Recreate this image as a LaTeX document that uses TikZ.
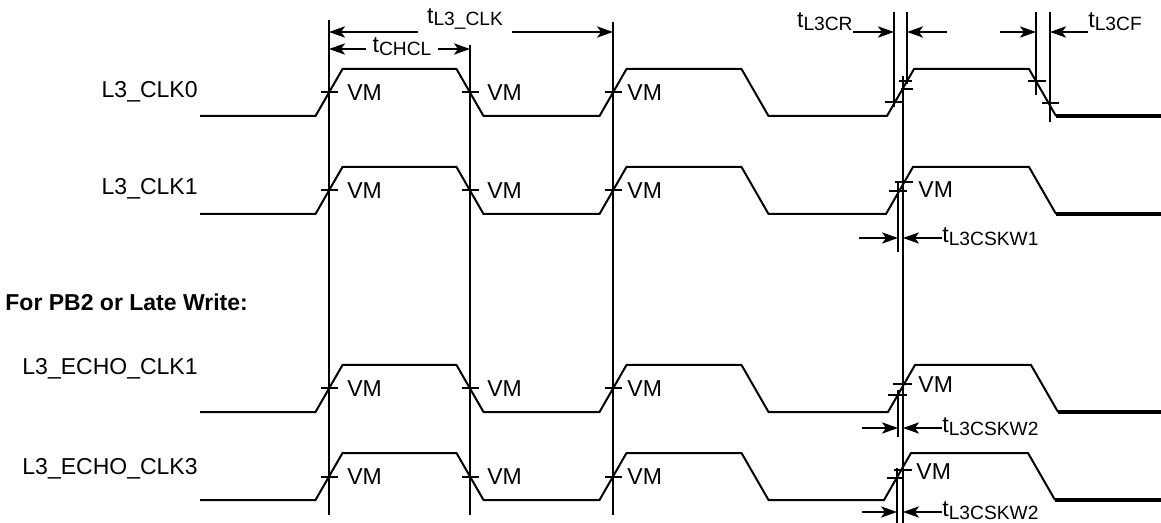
\documentclass[tikz,border=0pt]{standalone}
\usepackage{fontspec}
\setmainfont{Liberation Sans}
\usetikzlibrary{arrows.meta,positioning,calc}

\newcommand{\tsub}[1]{t\raisebox{-1.4pt}{\fontsize{9.6}{10}\selectfont #1}}

\begin{document}
\begin{tikzpicture}[x=0.5pt,y=-0.5pt,
    sig/.style={line width=1pt},
    guide/.style={line width=1pt},
    dimarrow/.style={line width=1pt,-{Stealth[length=8pt,width=5.6pt,inset=2pt]}},
    txt/.style={font=\fontsize{11.5}{13}\selectfont, inner sep=0pt}]
    \useasboundingbox (0,0) rectangle (1161,523);

    % signal names
    \node[txt, anchor=east] (nclk0) at (198,92) {L3\_CLK0};
    \node[txt, anchor=east] (nclk1) at (198,189) {L3\_CLK1};
    \node[txt, anchor=west, font=\bfseries\fontsize{11.5}{13}\selectfont] (npb2) at (5,302) {For PB2 or Late Write:};
    \node[txt, anchor=east] (necho1) at (198,369) {L3\_ECHO\_CLK1};
    \node[txt, anchor=east] (necho3) at (198,469) {L3\_ECHO\_CLK3};

    % waveforms
    \foreach \hi/\lo/\r/\f/\n in {69/116/887/1029/a, 167/214/886/1029/b, 365/412/888/1031/c, 453/500/884/1028/d}{
        \pgfmathsetmacro\mid{(\hi+\lo)/2}
        \draw[sig] (200,\lo) -- (315.5,\lo) -- (342.5,\hi) -- (456.5,\hi) -- (483.5,\lo) -- (599.5,\lo)
            -- (626.5,\hi) -- (741.5,\hi) -- (768.5,\lo) -- (\r,\lo) -- (\r+27,\hi) -- (\f,\hi) -- (\f+27,\lo);
        \draw[line width=1.6pt] (\f+27,\lo) -- (1161,\lo);
        \foreach \c in {329,470,613}
            \draw[sig] (\c-8.5,\mid) -- (\c+8.5,\mid);
        \node[txt, anchor=west] (vm\n1) at (347,\mid) {VM};
        \node[txt, anchor=west] (vm\n2) at (487,\mid) {VM};
        \node[txt, anchor=west] (vm\n3) at (627,\mid) {VM};
    }

    % level marks on the last edges
    \draw[sig] (899,81) -- (912,81) (901,89) -- (913,89) (885,102) -- (903,102);
    \draw[sig] (1028,81) -- (1046,81) (1042,103) -- (1059,103);
    \draw[sig] (895,182) -- (913,182) (889,191) -- (907,191);
    \draw[sig] (893,384) -- (912,384) (888,395) -- (907,395);
    \draw[sig] (894,470) -- (912,470) (887,478) -- (904,478);
    \node[txt, anchor=west] (vmb4) at (918,190) {VM};
    \node[txt, anchor=west] (vmc4) at (918,385) {VM};
    \node[txt, anchor=west] (vmd4) at (916,472) {VM};

    % guide lines
    \draw[guide] (329,20) -- (329,515);
    \draw[guide] (470,45) -- (470,515);
    \draw[guide] (613,22) -- (613,515);
    \draw[guide] (894,12) -- (894,107);
    \draw[guide] (907,12) -- (907,84);
    \draw[guide] (903,76) -- (903,523);
    \draw[guide] (1036,12) -- (1036,95);
    \draw[guide] (1050,12) -- (1050,122);
    \draw[guide] (898,182) -- (898,252);
    \draw[guide] (898,390) -- (898,437);
    \draw[guide] (897,468) -- (897,523);

    % dimension ends
    \coordinate (clkl) at (329,32);
    \coordinate (clkr) at (613,32);
    \coordinate (chl) at (329,49);
    \coordinate (chr) at (470,49);
    \coordinate (cr1) at (894,32);
    \coordinate (cr2) at (907,32);
    \coordinate (crtail) at (947,32);
    \coordinate (cf1) at (1036,32);
    \coordinate (cf2) at (1050,32);
    \coordinate (cftail) at (1000,32);
    \coordinate (s1a) at (898,238);
    \coordinate (s1b) at (903,238);
    \coordinate (s1tail) at (859,238);
    \coordinate (s2a) at (898,428);
    \coordinate (s2b) at (903,428);
    \coordinate (s2tail) at (862,428);
    \coordinate (s3a) at (897,512);
    \coordinate (s3b) at (903,512);
    \coordinate (s3tail) at (862,512);

    % timing labels
    \node[txt, inner xsep=4.5pt] (tclk) at (465,19) {\tsub{L3\_CLK}};
    \node[txt, inner xsep=3pt] (tchcl) at (402,47) {\tsub{CHCL}};
    \node[txt, anchor=east] (tcr) at (853,22) {\tsub{L3CR}};
    \node[txt, anchor=west] (tcf) at (1088,22) {\tsub{L3CF}};
    \node[txt, anchor=west] (tskw1) at (942,237) {\tsub{L3CSKW1}};
    \node[txt, anchor=west] (tskw2) at (942,427) {\tsub{L3CSKW2}};
    \node[txt, anchor=west] (tskw3) at (942,511) {\tsub{L3CSKW2}};

    % dimension arrows
    \draw[dimarrow] (tclk.west |- clkl) -- (clkl);
    \draw[dimarrow] (tclk.east |- clkr) -- (clkr);
    \draw[dimarrow] (tchcl.west |- chl) -- (chl);
    \draw[dimarrow] (tchcl.east |- chr) -- (chr);
    \draw[dimarrow] (tcr.east |- cr1) -- (cr1);
    \draw[dimarrow] (crtail) -- (cr2);
    \draw[dimarrow] (cftail) -- (cf1);
    \draw[dimarrow] (tcf.west |- cf2) -- (cf2);
    \draw[dimarrow] (s1tail) -- (s1a);
    \draw[dimarrow] (tskw1.west |- s1b) -- (s1b);
    \draw[dimarrow] (s2tail) -- (s2a);
    \draw[dimarrow] (tskw2.west |- s2b) -- (s2b);
    \draw[dimarrow] (s3tail) -- (s3a);
    \draw[dimarrow] (tskw3.west |- s3b) -- (s3b);
\end{tikzpicture}
\end{document}
